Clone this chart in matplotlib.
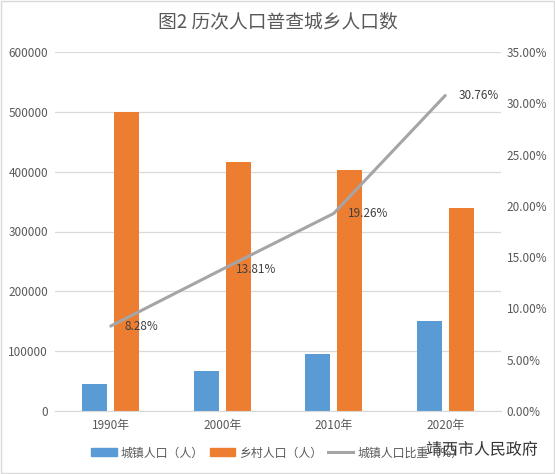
import matplotlib
matplotlib.use('Agg')
import matplotlib.pyplot as plt
import matplotlib.patches as mpatches
import matplotlib.patheffects as pe
from matplotlib.lines import Line2D
from matplotlib.ticker import FuncFormatter, MultipleLocator
import numpy as np

plt.rcParams['font.family'] = ['Noto Sans CJK SC', 'DejaVu Sans']

# 数据
years = ['1990年', '2000年', '2010年', '2020年']
urban = [45200, 66800, 95400, 150600]
rural = [500000, 416500, 402000, 339500]
urban_share = [8.28, 13.81, 19.26, 30.76]

blue = '#5B9BD5'
orange = '#ED7D31'
grey = '#A5A5A5'
txt = '#595959'

fig = plt.figure(figsize=(5.55, 4.74), dpi=100)
ax = fig.add_axes([55/555, 63/474, 446/555, 359/474])
ax2 = ax.twinx()

x = np.arange(len(years))
w = 0.224
ax.bar(x - 0.1435, urban, w, color=blue, zorder=2)
ax.bar(x + 0.1435, rural, w, color=orange, zorder=2)

ax.set_xlim(-0.5, 3.5)
ax.set_ylim(0, 600000)
ax.yaxis.set_major_locator(MultipleLocator(100000))
ax.grid(axis='y', color='#D9D9D9', linewidth=0.9, zorder=0)
ax.set_axisbelow(True)
ax.set_xticks(x)
ax.set_xticklabels(years)
for s in ax.spines.values():
    s.set_visible(False)
for s in ax2.spines.values():
    s.set_visible(False)
ax.spines['bottom'].set_visible(True)
ax.spines['bottom'].set_color('#D9D9D9')
ax.tick_params(axis='both', length=0, labelsize=8.5, colors=txt, pad=6)
ax.tick_params(axis='y', pad=5)

ax2.plot(x, urban_share, color=grey, linewidth=2.2, solid_capstyle='round', zorder=3)
ax2.set_ylim(0, 35)
ax2.yaxis.set_major_locator(MultipleLocator(5))
ax2.yaxis.set_major_formatter(FuncFormatter(lambda v, p: f'{v:.2f}%'))
ax2.tick_params(axis='y', length=0, labelsize=8.5, colors=txt, pad=4)
for xi, v in zip(x, urban_share):
    ax2.annotate(f'{v:.2f}%', (xi, v), xytext=(10, 0), textcoords='offset points',
                 ha='left', va='center', fontsize=8.5, color='#404040', zorder=4)

fig.text(0.5, 1 - 22/474, '图2 历次人口普查城乡人口数', ha='center', va='center',
         fontsize=13.5, color=txt)

handles = [mpatches.Patch(color=blue, label='城镇人口（人）'),
           mpatches.Patch(color=orange, label='乡村人口（人）'),
           Line2D([0], [0], color=grey, linewidth=2.2, label='城镇人口比重（%）')]
fig.legend(handles=handles, loc='center', bbox_to_anchor=(0.5, 1 - 453/474), ncol=3,
           frameon=False, fontsize=8.6, labelcolor=txt, handlelength=2.1,
           handleheight=0.65, columnspacing=0.5, handletextpad=0.35)

# 水印
fig.text(538/555, 1 - 450/474, '靖西市人民政府', ha='right', va='center', fontsize=11.5,
         color='#333333', path_effects=[pe.withStroke(linewidth=2, foreground='white')])

fig.patches.append(mpatches.Rectangle((0.002, 0.002), 0.996, 0.996, transform=fig.transFigure,
                                      fill=False, edgecolor='#D9D9D9', linewidth=1))

fig.savefig('out.png', dpi=100, facecolor='white')
